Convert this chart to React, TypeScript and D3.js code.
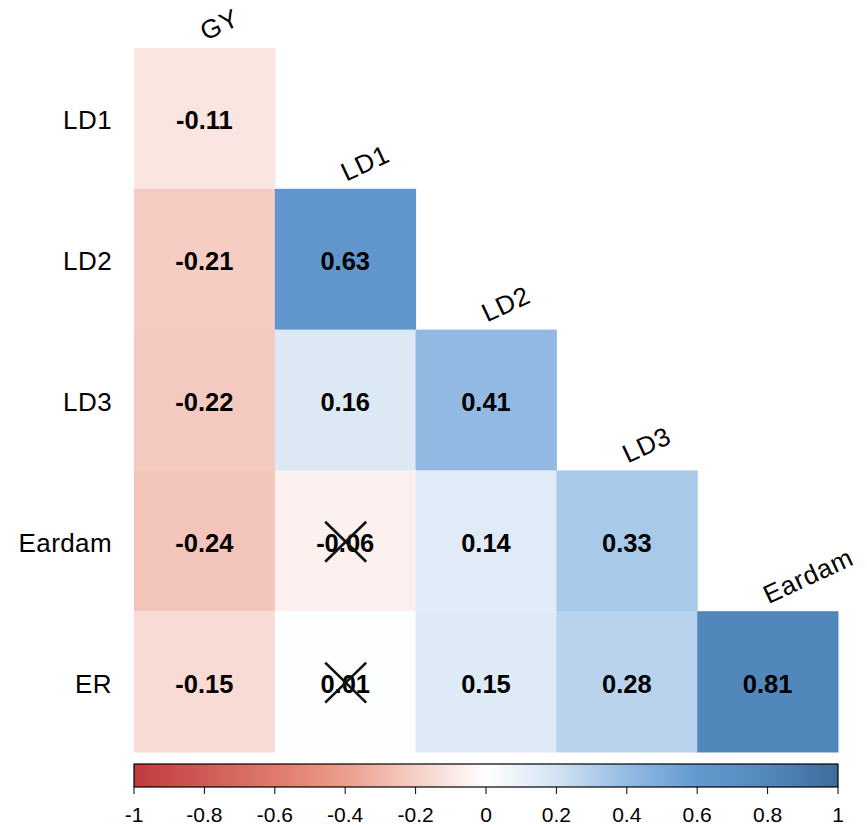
import * as d3 from "d3";

const ROW_VARS = ["LD1", "LD2", "LD3", "Eardam", "ER"];
const COL_VARS = ["GY", "LD1", "LD2", "LD3", "Eardam"];

// lower triangle, one row per ROW_VARS entry
const CORR_LD1 = [-0.11];
const CORR_LD2 = [-0.21, 0.63];
const CORR_LD3 = [-0.22, 0.16, 0.41];
const CORR_EARDAM = [-0.24, -0.06, 0.14, 0.33];
const CORR_ER = [-0.15, 0.01, 0.15, 0.28, 0.81];
const CORR_ROWS = [CORR_LD1, CORR_LD2, CORR_LD3, CORR_EARDAM, CORR_ER];

// not significant -> crossed out
const CROSSED = ["Eardam|LD1", "ER|LD1"];

const LEGEND_TICKS = [-1, -0.8, -0.6, -0.4, -0.2, 0, 0.2, 0.4, 0.6, 0.8, 1];

const W = 867;
const H = 825;
const FONT = "'Liberation Sans', Arial, sans-serif";

const colorStops: [number, string][] = [
  [-1, "#c03b3e"],
  [-0.6, "#df7a6c"],
  [-0.4, "#eb9d8b"],
  [-0.2, "#f5cfc6"],
  [0, "#ffffff"],
  [0.2, "#d3e3f3"],
  [0.4, "#93bbe3"],
  [0.6, "#6499cf"],
  [0.8, "#5388bd"],
  [1, "#3f6c9a"],
];

const color = d3
  .scaleLinear<string>()
  .domain(colorStops.map((d) => d[0]))
  .range(colorStops.map((d) => d[1]))
  .interpolate(d3.interpolateRgb);

export default function App() {
  const x = d3.scaleBand().domain(COL_VARS).range([134, 838]);
  const y = d3.scaleBand().domain(ROW_VARS).range([48, 752]);
  const lx = d3.scaleLinear().domain([-1, 1]).range([134, 838]);

  const cells = CORR_ROWS.flatMap((vals, i) =>
    vals.map((v, j) => ({ row: ROW_VARS[i], col: COL_VARS[j], v }))
  );

  const fmt = (v: number) => v.toFixed(2);

  return (
    <svg width={W} height={H} style={{ position: "absolute", left: 0, top: 0 }}>
      <defs>
        <linearGradient id="cbar" x1="0" x2="1" y1="0" y2="0">
          {d3.range(0, 101).map((k) => (
            <stop key={k} offset={`${k}%`} stopColor={color(-1 + (k / 100) * 2)} />
          ))}
        </linearGradient>
      </defs>

      {cells.map((c) => {
        const cx = x(c.col)! + x.bandwidth() / 2;
        const cy = y(c.row)! + y.bandwidth() / 2;
        const crossed = CROSSED.includes(`${c.row}|${c.col}`);
        return (
          <g key={`${c.row}-${c.col}`}>
            <rect
              x={x(c.col)}
              y={y(c.row)}
              width={x.bandwidth() + 0.5}
              height={y.bandwidth() + 0.5}
              fill={color(c.v)}
            />
            <text
              x={cx}
              y={cy + 11}
              textAnchor="middle"
              fontFamily={FONT}
              fontWeight="bold"
              fontSize={25.5}
            >
              {fmt(c.v)}
            </text>
            {crossed && (
              <g stroke="#111" strokeWidth={2.6}>
                <line x1={cx - 20} y1={cy - 19} x2={cx + 21} y2={cy + 21} />
                <line x1={cx + 21} y1={cy - 19} x2={cx - 20} y2={cy + 21} />
              </g>
            )}
          </g>
        );
      })}

      {/* row labels */}
      {ROW_VARS.map((r) => (
        <text
          key={r}
          x={112}
          y={y(r)! + y.bandwidth() / 2 + 11}
          textAnchor="end"
          fontFamily={FONT}
          fontSize={26}
          letterSpacing={0.4}
        >
          {r}
        </text>
      ))}

      {/* column labels above the top cell of each column */}
      {COL_VARS.map((c, j) => {
        const cx = x(c)! + x.bandwidth() / 2 + 1;
        const top = y(ROW_VARS[j])! - 7;
        return (
          <text
            key={c}
            transform={`translate(${cx},${top}) rotate(-25)`}
            fontFamily={FONT}
            fontSize={26}
            letterSpacing={0.8}
          >
            {c}
          </text>
        );
      })}

      {/* colour legend */}
      <rect x={134} y={764} width={704} height={23} fill="url(#cbar)" stroke="#000" strokeWidth={1.2} />
      {LEGEND_TICKS.map((t) => (
        <g key={t}>
          <line x1={lx(t)} x2={lx(t)} y1={787} y2={794} stroke="#000" strokeWidth={1} />
          <text x={lx(t)} y={822} textAnchor="middle" fontFamily={FONT} fontSize={21}>
            {t}
          </text>
        </g>
      ))}
    </svg>
  );
}
